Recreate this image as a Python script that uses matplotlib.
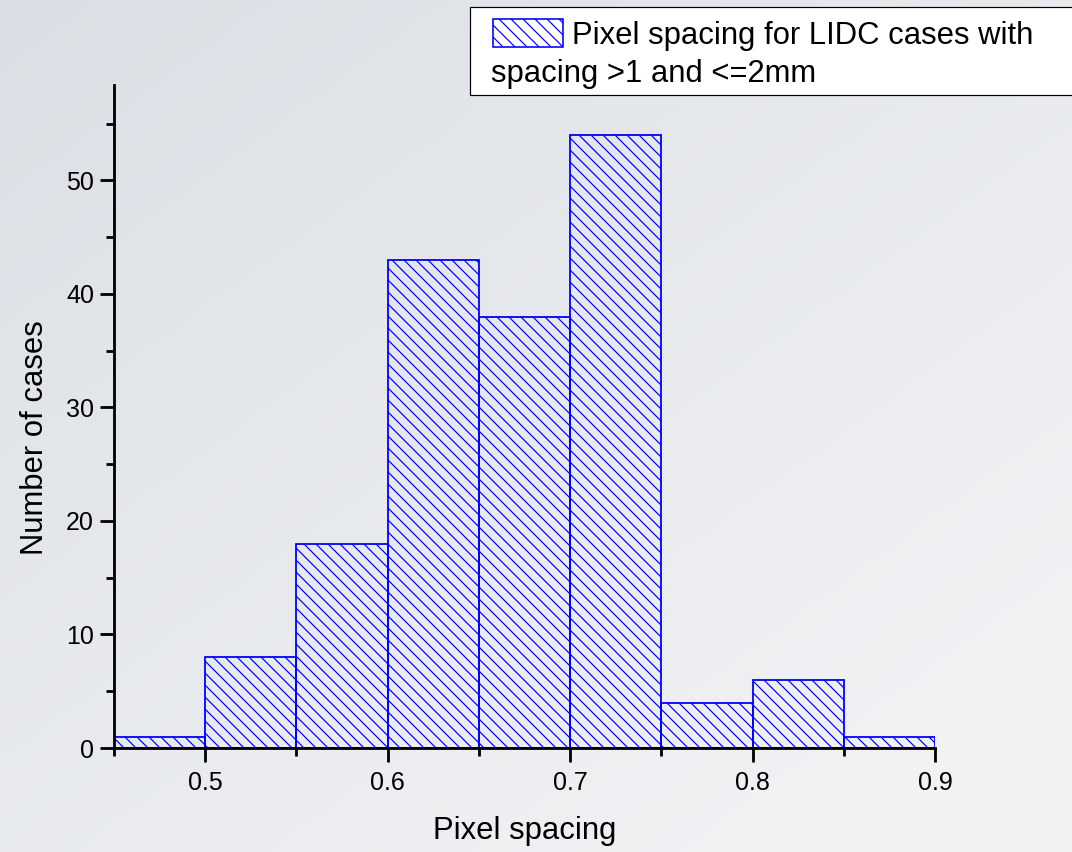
import numpy as np
import matplotlib
matplotlib.use("Agg")
import matplotlib.pyplot as plt
from matplotlib.patches import Rectangle
from matplotlib.ticker import MultipleLocator

# histogram of pixel spacing, bins of 0.05 mm
bin_edges = [0.45, 0.50, 0.55, 0.60, 0.65, 0.70, 0.75, 0.80, 0.85, 0.90]
counts = [1, 8, 18, 43, 38, 54, 4, 6, 1]

legend_line1 = "Pixel spacing for LIDC cases with"
legend_line2 = "spacing >1 and <=2mm"

plt.rcParams["font.family"] = ["Liberation Sans", "DejaVu Sans"]
plt.rcParams["hatch.linewidth"] = 1.2

W, H = 1072, 852
DPI = 72
fig = plt.figure(figsize=(W / DPI, H / DPI), dpi=DPI)

# soft gray backdrop, darker towards the top left
bg = fig.add_axes([0, 0, 1, 1], zorder=-10)
yy, xx = np.mgrid[0:1:200j, 0:1:200j]
t = np.clip(0.55 * xx + 0.6 * yy, 0, 1)
c0 = np.array([219, 223, 229]) / 255
c1 = np.array([241, 242, 244]) / 255
img = c0[None, None, :] * (1 - t[..., None]) + c1[None, None, :] * t[..., None]
bg.imshow(img, aspect="auto", extent=[0, 1, 0, 1], origin="upper")
bg.axis("off")

# main axes placed in pixel terms
x0, x1 = 114, 935
y0, y1 = 85, 748
ax = fig.add_axes([x0 / W, 1 - y1 / H, (x1 - x0) / W, (y1 - y0) / H])
ax.patch.set_alpha(0)

widths = np.diff(bin_edges)
ax.bar(bin_edges[:-1], counts, width=widths, align="edge",
       facecolor="none", edgecolor="#0000ff", linewidth=1.8, hatch="\\\\")

ax.set_xlim(0.45, 0.9)
ax.set_ylim(0, 58.4)
ax.xaxis.set_major_locator(MultipleLocator(0.1))
ax.xaxis.set_minor_locator(MultipleLocator(0.05))
ax.yaxis.set_major_locator(MultipleLocator(10))
ax.yaxis.set_minor_locator(MultipleLocator(5))
ax.xaxis.set_major_formatter(plt.FuncFormatter(lambda v, p: f"{v:.1f}"))

for side in ("top", "right"):
    ax.spines[side].set_visible(False)
for side in ("left", "bottom"):
    ax.spines[side].set_linewidth(2.8)

ax.tick_params(which="major", direction="out", length=14, width=2.8,
               labelsize=25, color="black")
ax.tick_params(which="minor", direction="out", length=8, width=2.8)
ax.tick_params(axis="x", which="major", pad=9)
ax.tick_params(axis="y", which="major", pad=6)

ax.set_xlabel("Pixel spacing", fontsize=31)
ax.xaxis.set_label_coords(0.5, -0.102)
ax.set_ylabel("Number of cases", fontsize=31)
ax.yaxis.set_label_coords(-0.078, 0.468)

# legend box in the Origin style, running off the right edge
def px(x, y):
    return x / W, 1 - y / H

lx, ly = px(470, 95)
fig.patches.append(Rectangle((lx, ly), (1090 - 470) / W, (95 - 7) / H,
                             transform=fig.transFigure, facecolor="white",
                             edgecolor="black", linewidth=1.2, zorder=5))
sx, sy = px(493, 47)
fig.patches.append(Rectangle((sx, sy), (563 - 493) / W, (47 - 19) / H,
                             transform=fig.transFigure, facecolor="white",
                             edgecolor="#0000ff", linewidth=1.6,
                             hatch="\\\\", zorder=6))
tx, ty = px(572, 44)
fig.text(tx, ty, legend_line1, fontsize=31, va="baseline", ha="left", zorder=7)
tx, ty = px(491, 82)
fig.text(tx, ty, legend_line2, fontsize=31, va="baseline", ha="left", zorder=7)

fig.savefig("out.png", dpi=DPI)
